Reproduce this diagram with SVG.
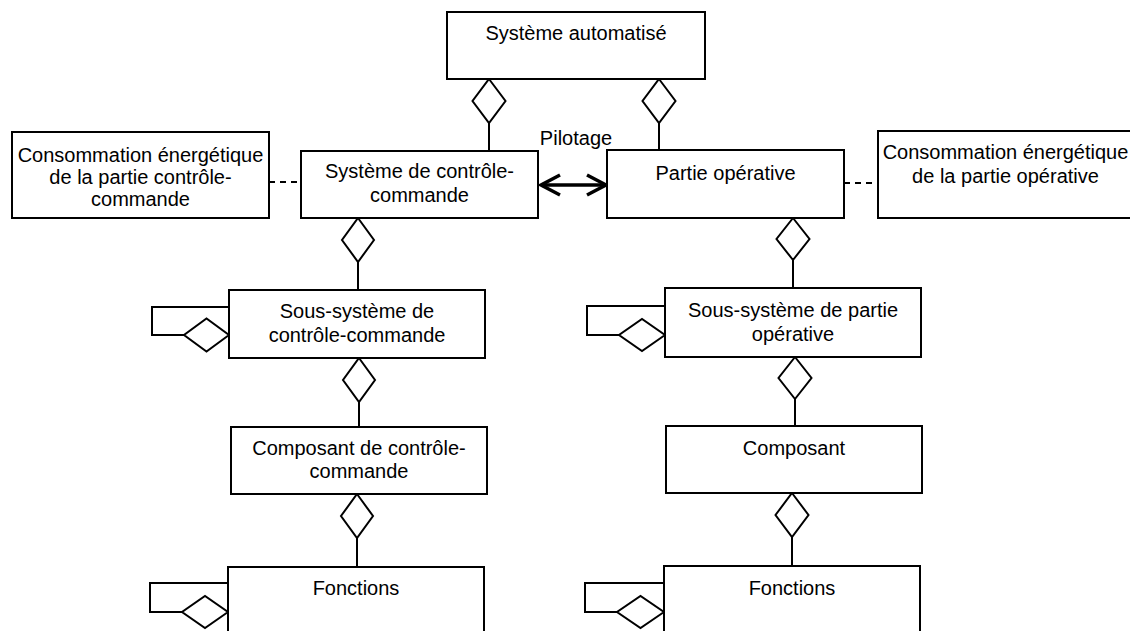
<svg xmlns="http://www.w3.org/2000/svg" width="1130" height="631" viewBox="0 0 1130 631">
<style>
.box{fill:#fff;stroke:#000;stroke-width:2}
.lbl{font-family:"Liberation Sans",Arial,sans-serif;font-size:20px;fill:#000;text-anchor:middle}
.ln{fill:none;stroke:#000;stroke-width:2}
.dia{fill:#fff;stroke:#000;stroke-width:2}
.dash{fill:none;stroke:#000;stroke-width:2;stroke-dasharray:6,5}
.arr{fill:none;stroke:#000;stroke-width:3.5}
</style>
<rect width="1130" height="631" fill="#fff"/>
<g id="connectors">
  <!-- Système automatisé to children -->
  <path class="dia" d="M489,79 L505.5,101 L489,123 L472.5,101 Z"/>
  <line class="ln" x1="489" y1="123" x2="489" y2="150"/>
  <path class="dia" d="M659,79 L675.5,101 L659,123 L642.5,101 Z"/>
  <line class="ln" x1="659" y1="123" x2="659" y2="150"/>
  <!-- Pilotage -->
  <line class="arr" x1="541" y1="185" x2="606" y2="185"/>
  <polyline class="arr" points="560,175 541,185 560,195"/>
  <polyline class="arr" points="587,175 606,185 587,195"/>
  <text class="lbl" x="576" y="145">Pilotage</text>
  <!-- dashed -->
  <line class="dash" x1="269" y1="182" x2="301" y2="182"/>
  <line class="dash" x1="844" y1="183" x2="878" y2="183"/>
  <!-- left column -->
  <path class="dia" d="M358,218 L374,240 L358,262 L342,240 Z"/>
  <line class="ln" x1="358" y1="262" x2="358" y2="290"/>
  <path class="dia" d="M359,358 L375,380 L359,402 L343,380 Z"/>
  <line class="ln" x1="359" y1="402" x2="359" y2="427"/>
  <path class="dia" d="M357,494 L373,516 L357,538 L341,516 Z"/>
  <line class="ln" x1="357" y1="538" x2="357" y2="567"/>
  <!-- right column -->
  <path class="dia" d="M793,218 L809.5,239 L793,260 L776.5,239 Z"/>
  <line class="ln" x1="793" y1="260" x2="793" y2="288"/>
  <path class="dia" d="M795,357 L811.5,378 L795,399 L778.5,378 Z"/>
  <line class="ln" x1="795" y1="399" x2="795" y2="426"/>
  <path class="dia" d="M792,493 L808.5,515 L792,537 L775.5,515 Z"/>
  <line class="ln" x1="792" y1="537" x2="792" y2="566"/>
  <!-- self loops -->
  <polyline class="ln" points="229,307 152,307 152,335 184,335"/>
  <path class="dia" d="M229,335 L206.5,351.5 L184,335 L206.5,318.5 Z"/>
  <polyline class="ln" points="665,306 587,306 587,335 619,335"/>
  <path class="dia" d="M665,335 L642,351 L619,335 L642,319 Z"/>
  <polyline class="ln" points="228,583 150,583 150,612 182,612"/>
  <path class="dia" d="M228,612 L205,628 L182,612 L205,596 Z"/>
  <polyline class="ln" points="664,583 585,583 585,612 617,612"/>
  <path class="dia" d="M664,612 L640.5,628 L617,612 L640.5,596 Z"/>
</g>
<g id="systeme-automatise">
  <rect class="box" x="447" y="12" width="258" height="67"/>
  <text class="lbl" x="576" y="40">Système automatisé</text>
</g>
<g id="conso-cc">
  <rect class="box" x="12" y="132" width="257" height="86"/>
  <text class="lbl" x="140.5" y="162">Consommation énergétique</text>
  <text class="lbl" x="140.5" y="184">de la partie contrôle-</text>
  <text class="lbl" x="140.5" y="206">commande</text>
</g>
<g id="systeme-cc">
  <rect class="box" x="301" y="151" width="237" height="67"/>
  <text class="lbl" x="419.5" y="178">Système de contrôle-</text>
  <text class="lbl" x="419.5" y="202">commande</text>
</g>
<g id="partie-operative">
  <rect class="box" x="607" y="150" width="237" height="68"/>
  <text class="lbl" x="725.5" y="180">Partie opérative</text>
</g>
<g id="conso-po">
  <rect class="box" x="878" y="131" width="258" height="87"/>
  <text class="lbl" x="1005.5" y="159">Consommation énergétique</text>
  <text class="lbl" x="1005.5" y="183">de la partie opérative</text>
</g>
<g id="ss-cc">
  <rect class="box" x="229" y="290" width="256" height="68"/>
  <text class="lbl" x="357" y="318">Sous-système de</text>
  <text class="lbl" x="357" y="342">contrôle-commande</text>
</g>
<g id="ss-po">
  <rect class="box" x="665" y="288" width="256" height="69"/>
  <text class="lbl" x="793" y="317">Sous-système de partie</text>
  <text class="lbl" x="793" y="341">opérative</text>
</g>
<g id="composant-cc">
  <rect class="box" x="231" y="427" width="256" height="67"/>
  <text class="lbl" x="359" y="455">Composant de contrôle-</text>
  <text class="lbl" x="359" y="478">commande</text>
</g>
<g id="composant">
  <rect class="box" x="666" y="426" width="256" height="67"/>
  <text class="lbl" x="794" y="455">Composant</text>
</g>
<g id="fonctions-cc">
  <rect class="box" x="228" y="567" width="256" height="80"/>
  <text class="lbl" x="356" y="595">Fonctions</text>
</g>
<g id="fonctions-po">
  <rect class="box" x="664" y="566" width="256" height="80"/>
  <text class="lbl" x="792" y="595">Fonctions</text>
</g>
</svg>
